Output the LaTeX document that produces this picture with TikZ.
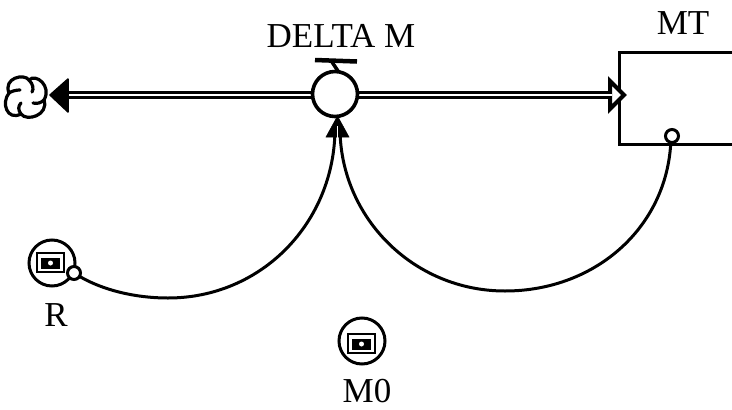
\documentclass[tikz,border=0pt]{standalone}
\usepackage{fontspec}
\usetikzlibrary{calc}
\setmainfont{Liberation Serif}
\begin{document}
\begin{tikzpicture}[x=1pt,y=-1pt,
  ink/.style={draw=black,line width=3pt},
  lbl/.style={inner sep=0pt,font=\fontsize{35}{38}\selectfont},
  flowpipe/.style={draw=black,line width=8.5pt},
  flowcore/.style={draw=white,line width=1.8pt},
  link/.style={draw=black,line width=3pt},
  cloudline/.style={draw=black,line width=3.2pt,line cap=round},
  tiny/.style={circle,draw=black,line width=3pt,fill=white,minimum size=13pt,inner sep=0pt},
  conv/.style={circle,draw=black,line width=3pt,minimum size=46pt,inner sep=0pt},
  convbox/.style={draw=black,line width=2.6pt,minimum width=27pt,minimum height=19pt,inner sep=0pt},
  convcore/.style={fill=black,minimum width=20pt,minimum height=12pt,inner sep=0pt},
  convpupil/.style={circle,fill=white,minimum size=5pt,inner sep=0pt}]
\useasboundingbox (0,0) rectangle (732,410);
% flow
\coordinate (src) at (50,95);
\coordinate (dst) at (626,95);
\node[circle,minimum size=47pt,inner sep=0pt] (valve) at (335,94) {};
\draw[flowpipe] ($(src)+(15,0)$) -- (valve.center |- src) -- ($(dst)+(-17,0)$);
\draw[flowcore] ($(src)+(15,0)$) -- (valve.center |- src) -- ($(dst)+(-17,0)$);
% stock
\coordinate (b1) at (732,52);
\coordinate (b2) at (619,52);
\coordinate (b3) at (619,144);
\coordinate (b4) at (732,144);
\draw[ink,fill=white] (b1) -- (b2) -- (b3) -- (b4);
% heads
\draw[black,fill=black,line width=1.5pt,line join=round] (src) -- ++(18,-16) -- ++(0,33) -- cycle;
\draw[black,fill=white,line width=4pt,line join=miter] (dst) ++(-2,0) -- ++(-14,-14) -- ++(0,28) -- cycle;
\draw[flowcore] ($(dst)+(-18,0)$) -- ($(dst)+(-14,0)$);
% valve
\node[circle,draw=black,line width=3.6pt,fill=white,minimum size=45pt,inner sep=0pt] (valveB) at (335,94) {};
\coordinate (hl) at (315,60);
\coordinate (hr) at (357,61.5);
\draw[black,line width=4.5pt] (hl) -- (hr);
\draw[black,line width=3.5pt] (332,62) -- (338,71);
% cloud
\draw[cloudline,fill=white]
  (9,93) .. controls (3,78) and (24,73) .. (29,80)
  .. controls (36,73) and (52,86) .. (44,100)
  .. controls (49,115) and (27,122) .. (21,114)
  .. controls (7,121) and (1,103) .. (9,93) -- cycle;
\draw[cloudline] (29,80) .. controls (33,84) and (34,89) .. (32,92);
\draw[cloudline] (44,100) .. controls (41,103) and (37,104) .. (33,103);
\draw[cloudline] (21,114) .. controls (18,110) and (18,106) .. (21,103);
\draw[cloudline] (9,93) .. controls (12,91) and (16,90) .. (20,90);
% converters
\node[conv] (r) at (52,263) {};
\node[convbox] (rb) at (50.5,262.5) {};
\node[convcore,minimum width=19pt,minimum height=11pt] (rc) at (50.5,263) {};
\node[convpupil] (rp) at (50.5,263) {};
\node[conv] (m) at (362,341) {};
\node[convbox] (mb) at (361.5,343.5) {};
\node[convcore,minimum width=19pt,minimum height=11pt] (mc) at (361.5,344) {};
\node[convpupil] (mp) at (361.5,344) {};
% arrow tip at valve
\coordinate (tip) at (337.5,116);
\draw[black,fill=black,line width=.5pt] (tip) -- (349,137) -- (326,137) -- cycle;
% links
\coordinate (rs) at (74,273);
\coordinate (ms) at (671,136);
\draw[link] (rs) .. controls (100,290) and (135,298) .. (168,298)
  .. controls (262,298) and (335,222) .. (335,128);
\draw[link] (ms) .. controls (670,225) and (597,291) .. (505,291)
  .. controls (413,291) and (340,217) .. (340,128);
\draw[white,line width=1pt] (337.5,126) -- (337.5,138);
\node[tiny] (rt) at (rs) {};
\node[tiny] (mt) at (672,136) {};
% labels
\node[lbl] (lv) at (341,36) {DELTA M};
\node[lbl] (lm) at (683,23) {MT};
\node[lbl] (lr) at (56,315) {R};
\node[lbl] (l0) at (367,391.5) {M0};
\end{tikzpicture}
\end{document}
